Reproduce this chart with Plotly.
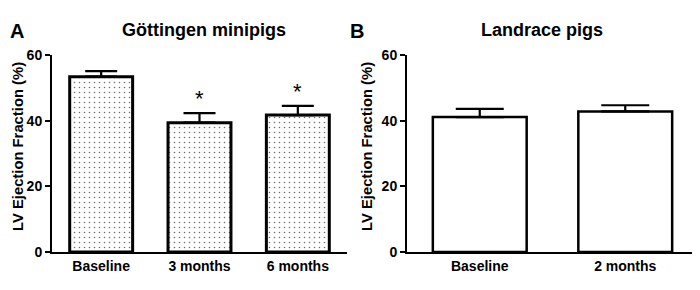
import plotly.graph_objects as go

# Data
cats_a = ["Baseline", "3 months", "6 months"]
mean_a = [53.4, 39.4, 41.7]
sem_a = [1.7, 2.9, 2.8]
sig_a = ["", "*", "*"]

cats_b = ["Baseline", "2 months"]
mean_b = [41.1, 42.8]
sem_b = [2.5, 1.9]

y_ticks = [0, 20, 40, 60]

# page body has an 8px default margin; figure sized to fill the rest of the 700x290 window
OFF = 8
W, H = 700 - OFF, 290 - OFF
FONT = "Liberation Sans, Arial, sans-serif"


def px(x):
    return (x - OFF) / W


def py(y):
    return (H - (y - OFF)) / H


fig = go.Figure()

fig.add_trace(go.Bar(
    x=cats_a, y=mean_a, width=0.64, xaxis="x", yaxis="y",
    marker=dict(color="white", line=dict(color="black", width=3),
                pattern=dict(shape=".", size=5, solidity=0.08, fgcolor="#707070", bgcolor="white")),
    error_y=dict(type="data", symmetric=False, array=sem_a, arrayminus=[0]*len(sem_a),
                 color="black", thickness=2.2, width=16),
    showlegend=False,
))
fig.add_trace(go.Bar(
    x=cats_b, y=mean_b, width=0.645, xaxis="x2", yaxis="y2",
    marker=dict(color="white", line=dict(color="black", width=2.5)),
    error_y=dict(type="data", symmetric=False, array=sem_b, arrayminus=[0]*len(sem_b),
                 color="black", thickness=2.2, width=24),
    showlegend=False,
))

ydom = [py(252), py(55)]

axis_common = dict(
    showline=True, linecolor="black", linewidth=2, ticks="outside", ticklen=5,
    tickwidth=2, tickcolor="black", showgrid=False, zeroline=False, automargin=False,
    tickfont=dict(family=FONT, size=14, color="black", weight="bold"),
)

fig.update_layout(
    template="none",
    width=W, height=H, margin=dict(l=0, r=0, t=0, b=0, pad=0),
    plot_bgcolor="white", paper_bgcolor="white",
    font=dict(family=FONT, color="black"),
    xaxis=dict(domain=[px(52), px(347)], anchor="y", range=[-0.5, 2.5], **{**axis_common, "ticks": ""}),
    yaxis=dict(domain=ydom, anchor="x", range=[0, 60], tickvals=y_ticks, **axis_common),
    xaxis2=dict(domain=[px(407), px(698)], anchor="y2", range=[-0.5, 1.5], **{**axis_common, "ticks": ""}),
    yaxis2=dict(domain=ydom, anchor="x2", range=[0, 60], tickvals=y_ticks, **axis_common),
    bargap=0.3,
)

ann = []
# significance marks
for c, m, s, t in zip(cats_a, mean_a, sem_a, sig_a):
    if t:
        ann.append(dict(x=c, y=m + s, xref="x", yref="y", text=t, showarrow=False,
                        xanchor="center", yanchor="bottom", yshift=0,
                        font=dict(family=FONT, size=22, color="black")))
# panel titles and letters
ann += [
    dict(x=px(204), y=py(30), xref="paper", yref="paper", text="<b>Göttingen minipigs</b>",
         xanchor="center", yanchor="middle", showarrow=False, font=dict(family=FONT, size=18, color="black")),
    dict(x=px(542), y=py(30), xref="paper", yref="paper", text="<b>Landrace pigs</b>",
         xanchor="center", yanchor="middle", showarrow=False, font=dict(family=FONT, size=18, color="black")),
    dict(x=px(8), y=py(31), xref="paper", yref="paper", text="<b>A</b>", xanchor="left",
         yanchor="middle", showarrow=False, font=dict(family=FONT, size=20, color="black")),
    dict(x=px(348), y=py(31), xref="paper", yref="paper", text="<b>B</b>", xanchor="left",
         yanchor="middle", showarrow=False, font=dict(family=FONT, size=20, color="black")),
    dict(x=px(8), y=py(147), xref="paper", yref="paper", text="<b>LV Ejection Fraction (%)</b>",
         xanchor="left", yanchor="middle", textangle=-90, showarrow=False,
         font=dict(family=FONT, size=14.8, color="black")),
    dict(x=px(357), y=py(147), xref="paper", yref="paper", text="<b>LV Ejection Fraction (%)</b>",
         xanchor="left", yanchor="middle", textangle=-90, showarrow=False,
         font=dict(family=FONT, size=14.8, color="black")),
]
fig.update_layout(annotations=ann)

fig.write_html("out.html")
